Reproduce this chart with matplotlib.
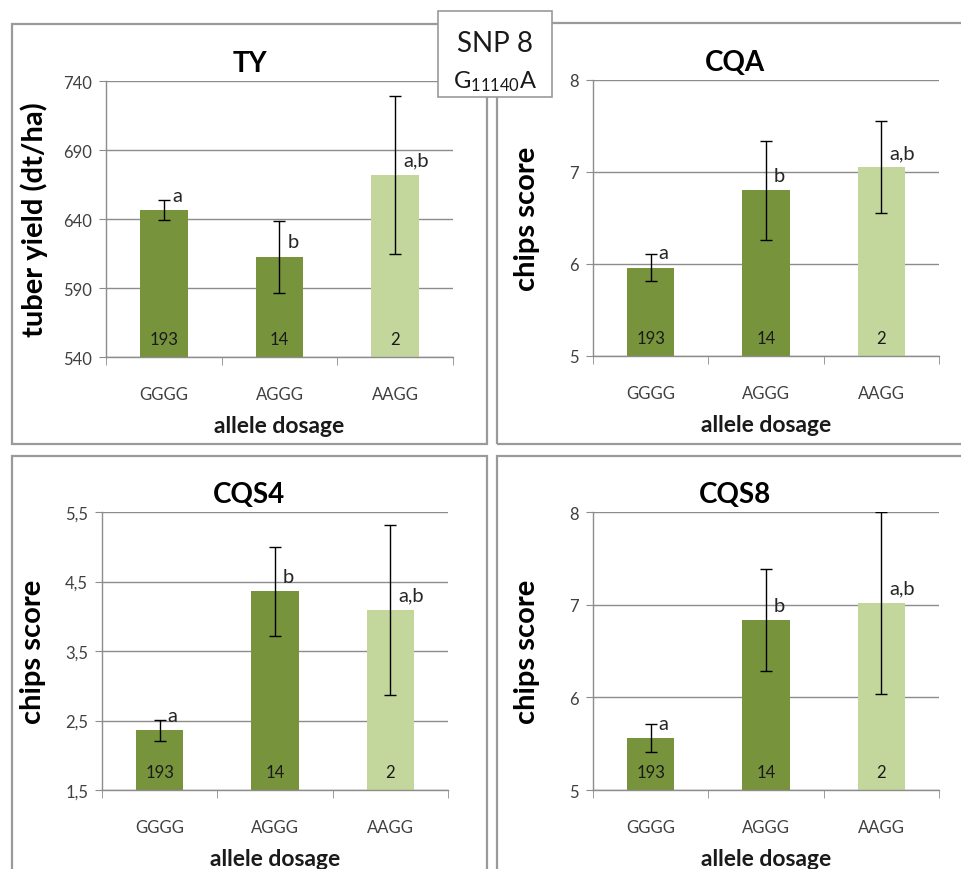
import numpy as np
import matplotlib
matplotlib.use("Agg")
from matplotlib import pyplot as plt
from matplotlib.patches import Rectangle
from matplotlib.ticker import FuncFormatter

plt.rcParams['font.family'] = ['Lato', 'DejaVu Sans']
plt.rcParams['mathtext.fontset'] = 'custom'
plt.rcParams['mathtext.rm'] = 'Lato'

# data
genotypes = ['GGGG', 'AGGG', 'AAGG']
counts = [193, 14, 2]
letters = ['a', 'b', 'a,b']

ty_mean = [646.5, 612.5, 672]
ty_err = [7, 26, 57]
cqa_mean = [5.96, 6.80, 7.05]
cqa_err = [0.15, 0.54, 0.50]
cqs4_mean = [2.36, 4.36, 4.09]
cqs4_err = [0.15, 0.64, 1.23]
cqs8_mean = [5.56, 6.83, 7.02]
cqs8_err = [0.15, 0.55, 0.98]

W, H = 962, 870
DARK = '#77933c'
LIGHT = '#c3d69b'
GRID = '#8c8c8c'
FRAME = '#9a9a9a'
TXT = '#404040'

fig = plt.figure(figsize=(W / 100, H / 100), dpi=100)
fig.patch.set_facecolor('white')


def px_axes(x0, y0, x1, y1):
    return fig.add_axes([x0 / W, 1 - y1 / H, (x1 - x0) / W, (y1 - y0) / H])


def frame(x0, y0, x1, y1):
    fig.patches.append(Rectangle((x0 / W, 1 - y1 / H), (x1 - x0) / W, (y1 - y0) / H,
                                 transform=fig.transFigure, fill=False,
                                 edgecolor=FRAME, lw=1.6, zorder=0))


def comma(v, pos):
    s = ('%g' % v)
    return s.replace('.', ',')


def panel(box, frm, title, mean, err, ylim, yticks, ylabel, labx):
    frame(*frm)
    fig.text((frm[0] + frm[2]) / 2 / W, 1 - (box[1] - 18) / H, title,
             ha='center', va='center', fontsize=20, fontweight='bold', color='black')
    ax = px_axes(*box)
    x = np.arange(len(genotypes))
    ax.bar(x, mean, width=0.41, color=[DARK, DARK, LIGHT], zorder=2)
    ax.errorbar(x, mean, yerr=err, fmt='none', ecolor='black', elinewidth=1,
                capsize=4, capthick=1, zorder=3)
    ax.set_xlim(-0.5, 2.5)
    ax.set_ylim(*ylim)
    ax.set_yticks(yticks)
    ax.yaxis.set_major_formatter(FuncFormatter(comma))
    ax.set_xticks(x)
    ax.set_xticklabels(genotypes)
    ax.set_xticks([-0.5, 0.5, 1.5, 2.5], minor=True)
    ax.tick_params(axis='x', which='major', length=0, pad=21, labelsize=12, labelcolor=TXT)
    ax.tick_params(axis='x', which='minor', length=6, color=GRID, direction='out')
    ax.tick_params(axis='y', length=5, color=GRID, labelsize=12, labelcolor=TXT, pad=5)
    ax.grid(axis='y', color=GRID, lw=1, zorder=0)
    for s in ['top', 'right']:
        ax.spines[s].set_visible(False)
    for s in ['left', 'bottom']:
        ax.spines[s].set_color(GRID)
        ax.spines[s].set_linewidth(1)
    ax.set_xlabel('allele dosage', fontsize=16.5, fontweight='bold', color='#1a1a1a', labelpad=9)
    ax.set_ylabel(ylabel, fontsize=21, fontweight='bold', color='black')
    ax.yaxis.set_label_coords(labx, 0.5)
    for i in range(len(genotypes)):
        ax.annotate(str(counts[i]), (x[i], ylim[0]), xytext=(0, 18),
                    textcoords='offset pixels', ha='center', va='center',
                    fontsize=12, color='#1a1a1a', zorder=4)
        ax.annotate(letters[i], (x[i] + 0.07, mean[i]), xytext=(0, 15),
                    textcoords='offset pixels', ha='left', va='center',
                    fontsize=14.5, color='#262626', zorder=4)
    return ax


panel((106, 82, 453, 358), (12, 25, 487, 445), 'TY', ty_mean, ty_err,
      (540, 740), [540, 590, 640, 690, 740], 'tuber yield (dt/ha)', -0.167)
panel((593, 81, 939, 357), (497, 24, 973, 445), 'CQA', cqa_mean, cqa_err,
      (5, 8), [5, 6, 7, 8], 'chips score', -0.153)
panel((102, 513, 448, 791), (12, 457, 487, 900), 'CQS4', cqs4_mean, cqs4_err,
      (1.5, 5.5), [1.5, 2.5, 3.5, 4.5, 5.5], 'chips score', -0.162)
panel((593, 513, 939, 791), (497, 457, 973, 900), 'CQS8', cqs8_mean, cqs8_err,
      (5, 8), [5, 6, 7, 8], 'chips score', -0.153)

# SNP label box
fig.patches.append(Rectangle((438 / W, 1 - 98 / H), 114 / W, 86 / H,
                             transform=fig.transFigure, facecolor='white',
                             edgecolor=FRAME, lw=1.2, zorder=5))
fig.text(495 / W, 1 - 44 / H, 'SNP 8', ha='center', va='center',
         fontsize=20, color='#1a1a1a', zorder=6)
fig.text(495 / W, 1 - 82 / H, r'$\mathrm{G_{11140}A}$', ha='center', va='center',
         fontsize=17, color='#1a1a1a', zorder=6)

fig.savefig('out.png', dpi=100, facecolor='white')
